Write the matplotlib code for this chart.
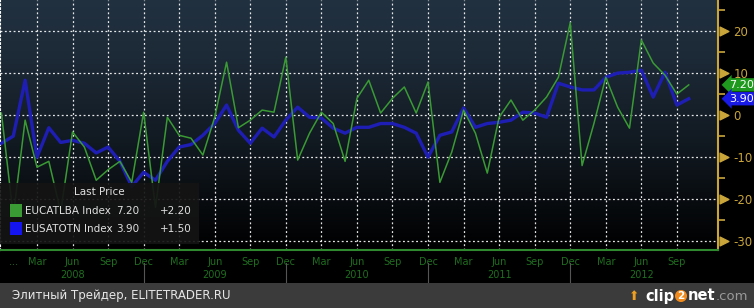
#!/usr/bin/env python3
"""Bloomberg-style chart: EUCATLBA vs EUSATOTN monthly index, 2008-2012."""

import matplotlib
matplotlib.use("Agg")
import matplotlib.pyplot as plt
import matplotlib.transforms as mtransforms
from matplotlib.patches import Rectangle
import numpy as np

# months counted from Jan 2008 (= 0); series runs Dec 2007 .. Oct 2012
months = list(range(-1, 58))

eucatlba = [
    0.5, -24, -1.2, -12.4, -11, -23, -4, -7.6, -15.5, -13, -11, -16,
    0.7, -22, -0.5, -4.8, -5.5, -9.5, -0.5, 12.6, -3, -1.2, 1.2, 0.7,
    13.8, -10.7, -4.3, 0.7, -2, -11, 4, 8.3, 0.5, 4, 6.7, 0.5,
    7.9, -16, -8.8, 1.2, -4.3, -13.8, -0.5, 3.6, -1.2, 1.2, 4.3, 9,
    22, -12, -2, 9, 1.9, -3.1, 17.9, 12.4, 9.5, 5.0, 7.2,
]
eusatotn = [
    -6.7, -5, 8.3, -10, -3, -6.5, -6, -6.7, -9, -7.6, -11, -17,
    -13.6, -15.5, -11, -7.6, -7, -4.8, -2, 2.4, -3.6, -6.7, -3.1, -5.2,
    -1.2, 1.9, -0.5, -0.7, -3.1, -4.3, -2.9, -2.9, -2, -2, -2.9, -4.3,
    -10, -4.8, -4, 1.7, -2.9, -2, -1.7, -1.2, 0.7, 0.5, -0.5, 7.6,
    6.7, 6, 6, 9, 10, 10.2, 10.7, 4.3, 10.2, 2.4, 3.9,
]

series_names = ["EUCATLBA Index", "EUSATOTN Index"]
month_names = ["Mar", "Jun", "Sep", "Dec"]
years = ["2008", "2009", "2010", "2011", "2012"]

GREEN = "#3a9a34"
BLUE = "#1e1eb4"
AXIS_GOLD = "#c9a53a"
LABEL_GREEN = "#1f6e1f"

fig = plt.figure(figsize=(7.54, 3.08), dpi=100)
fig.patch.set_facecolor("black")

ax = fig.add_axes([0.0, 58 / 308, 718 / 754, 250 / 308])
ax.set_xlim(-1.12, 59.47)
ax.set_ylim(-32.1, 27.4)

# background gradient (dark steel blue -> black)
grad = np.linspace(0, 1, 256).reshape(-1, 1) ** 1.3
top = np.array([0.13, 0.19, 0.25])
rgb = top[None, None, :] * (1 - grad[:, :, None])
ax.imshow(rgb, extent=(-1.12, 59.47, -32.1, 27.4), aspect="auto", origin="upper", zorder=0)

# grid
quarters = list(range(2, 57, 3))
for q in quarters:
    ax.axvline(q, color="white", lw=0.9, ls=(0, (1.5, 2)), alpha=0.9, zorder=1)
for yv in [20, 10, 0, -10, -20, -30]:
    ax.axhline(yv, color="white", lw=0.9, ls=(0, (1.5, 2)), alpha=0.9, zorder=1)

ax.plot(months, eusatotn, color=BLUE, lw=2.4, zorder=3, solid_joinstyle="round")
ax.plot(months, eucatlba, color=GREEN, lw=1.1, zorder=4)

# spines
ax.spines["top"].set_visible(False)
ax.spines["bottom"].set_color("#2f8a2f")
ax.spines["bottom"].set_linewidth(1.5)
ax.spines["left"].set_color("white")
ax.spines["left"].set_linestyle((0, (1.5, 2)))
ax.spines["right"].set_color(AXIS_GOLD)
ax.spines["right"].set_linewidth(1.5)

# right axis ticks
ax.yaxis.tick_right()
ax.set_yticks([20, 10, 0, -10, -20, -30])
ax.set_yticklabels(["20", "10", "0", "-10", "-20", "-30"])
ax.set_yticks([25, 15, 5, -5, -15, -25], minor=True)
ax.tick_params(axis="y", which="major", colors=AXIS_GOLD, length=0, pad=11, labelsize=8.5)
ax.tick_params(axis="y", which="minor", colors=AXIS_GOLD, length=5, width=1.2, direction="out")
ax.tick_params(axis="y", which="both", left=False)
tr = mtransforms.blended_transform_factory(ax.transAxes, ax.transData)
for yv in [20, 10, 0, -10, -20, -30]:
    ax.scatter([1.008], [yv], marker=">", s=40, color=AXIS_GOLD, transform=tr,
               clip_on=False, zorder=5)

# x axis labels
ax.set_xticks([0] + quarters)
ax.set_xticklabels(["..."] + [month_names[i % 4] for i in range(len(quarters))])
ax.tick_params(axis="x", colors=LABEL_GREEN, length=0, pad=5, labelsize=7)
trx = mtransforms.blended_transform_factory(ax.transData, ax.transAxes)
for i, yr in enumerate(years):
    ax.text(5 + 12 * i, -0.1, yr, transform=trx, ha="center", va="center",
            color=LABEL_GREEN, fontsize=7)
for sep in [11, 23, 35, 47]:
    ax.plot([sep, sep], [-0.05, -0.135], transform=trx, color="#555555", lw=0.8, clip_on=False)

# value tags on right
for vals, col in [(eucatlba, "#1f9a1f"), (eusatotn, "#1a1ae6")]:
    ax.text(1.015, vals[-1], f"{vals[-1]:.2f}", transform=tr, ha="left", va="center",
            color="white", fontsize=8, zorder=6,
            bbox=dict(boxstyle="larrow,pad=0.15", fc=col, ec="none"))

# legend box
ax.add_patch(Rectangle((0, 0.025), 0.277, 0.245, transform=ax.transAxes,
                       fc="#141414", ec="none", alpha=0.92, zorder=6))
ax.text(0.139, 0.233, "Last Price", transform=ax.transAxes, ha="center", va="center",
        color="#e0e0e0", fontsize=7.5, zorder=7)
for k, (name, vals, col) in enumerate([(series_names[0], eucatlba, GREEN),
                                        (series_names[1], eusatotn, "#1414f0")]):
    yy = 0.158 - k * 0.072
    ax.add_patch(Rectangle((0.014, yy - 0.025), 0.017, 0.05, transform=ax.transAxes,
                           fc=col, ec="none", zorder=7))
    ax.text(0.035, yy, name, transform=ax.transAxes, ha="left", va="center",
            color="#e0e0e0", fontsize=7.5, zorder=7)
    ax.text(0.178, yy, f"{vals[-1]:.2f}", transform=ax.transAxes, ha="center", va="center",
            color="#e0e0e0", fontsize=7.5, zorder=7)
    ax.text(0.245, yy, f"{vals[-1] - vals[-2]:+.2f}", transform=ax.transAxes, ha="center",
            va="center", color="#e0e0e0", fontsize=7.5, zorder=7)

# bottom watermark strip
fig.patches.append(Rectangle((0, 0), 1, 25 / 308, transform=fig.transFigure,
                             fc="#3b3b3b", ec="none", zorder=0))
fig.text(12 / 754, 12 / 308, "Элитный Трейдер, ELITETRADER.RU", color="#e6e6e6",
         fontsize=8.5, ha="left", va="center")
fig.text(674 / 754, 12 / 308, "clip", color="white", fontsize=10.5, fontweight="bold",
         ha="right", va="center")
fig.text(681 / 754, 12 / 308, "2", color="white", fontsize=7.5, fontweight="bold",
         ha="center", va="center",
         bbox=dict(boxstyle="circle,pad=0.1", fc="#f08a1c", ec="none"))
fig.text(688 / 754, 12 / 308, "net", color="white", fontsize=10.5, fontweight="bold",
         ha="left", va="center")
fig.text(716 / 754, 12 / 308, ".com", color="#9a9a9a", fontsize=9.5,
         ha="left", va="center")
fig.text(634 / 754, 12 / 308, "\u2b06", color="#f0a020", fontsize=9,
         ha="center", va="center", family=["DejaVu Sans"])

fig.savefig("out.png", dpi=100, facecolor=fig.get_facecolor())
